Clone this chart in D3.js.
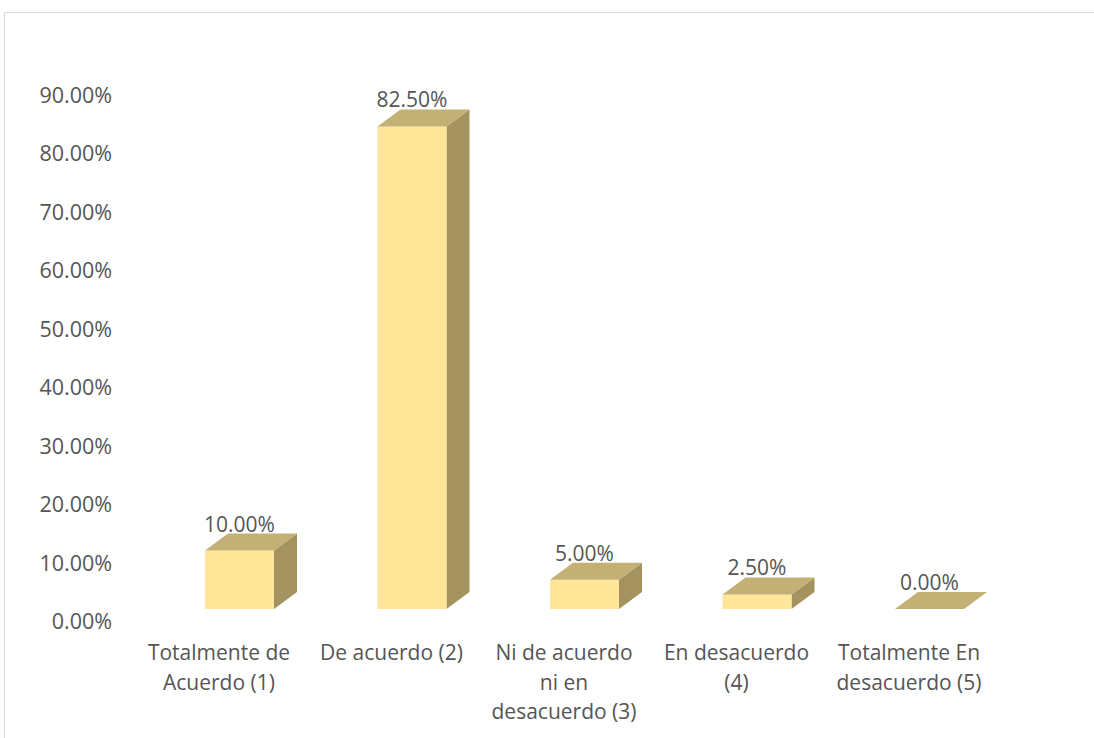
<!DOCTYPE html>
<html>
<head>
<meta charset="utf-8">
<script src="https://cdn.jsdelivr.net/npm/d3@7"></script>
<style>
  body { margin: 0; background: #fff; }
  text { font-family: "Open Sans", sans-serif; fill: #555; }
</style>
</head>
<body>
<svg id="chart" width="1094" height="738"></svg>
<script>
// data
var categories = ["Totalmente de\nAcuerdo (1)", "De acuerdo (2)", "Ni de acuerdo\nni en\ndesacuerdo (3)", "En desacuerdo\n(4)", "Totalmente En\ndesacuerdo (5)"];
var values = [0.10, 0.825, 0.05, 0.025, 0.0];
var yTicks = [0, 0.1, 0.2, 0.3, 0.4, 0.5, 0.6, 0.7, 0.8, 0.9];

var svg = d3.select("#chart"),
    width = +svg.attr("width"),
    height = +svg.attr("height");

// chart frame (right and bottom edges fall outside the picture)
svg.append("rect")
    .attr("x", 4.5).attr("y", 12.5)
    .attr("width", width + 10).attr("height", height + 10)
    .attr("fill", "#fff")
    .attr("stroke", "#d9d9d9");

var x = d3.scalePoint()
    .domain(categories)
    .range([219, 909]);

var y = d3.scaleLinear()
    .domain([0, 0.9])
    .range([622, 95.5]);

var fmt = d3.format(".2%");

// 3d look
var barW = 69, barShift = -14,  // front face relative to category centre
    dx = 23, dy = -17,          // depth offset
    lift = -13;                 // front face floor sits above the axis zero

// y axis labels only, no line
var yAxis = d3.axisLeft(y).tickValues(yTicks).tickFormat(fmt).tickSize(0).tickPadding(0);
var ag = svg.append("g").attr("transform", "translate(112,0)").call(yAxis);
ag.select(".domain").remove();
ag.selectAll("text")
    .attr("fill", "#555")
    .style("font-family", "'Open Sans', sans-serif")
    .style("font-size", "21.5px");

var bars = svg.append("g").selectAll("g")
    .data(categories.map(function(c, i) { return { c: c, v: values[i] }; }))
    .enter().append("g");

bars.each(function(d) {
  var g = d3.select(this),
      x0 = x(d.c) + barShift,
      x1 = x0 + barW,
      yb = y(0) + lift,
      yt = y(d.v) + lift;

  // right side
  if (yb - yt > 0) {
    g.append("path")
      .attr("d", "M" + x1 + "," + yt + "L" + (x1 + dx) + "," + (yt + dy) +
                 "L" + (x1 + dx) + "," + (yb + dy) + "L" + x1 + "," + yb + "Z")
      .attr("fill", "#a4935f");
    g.append("rect")
      .attr("x", x0).attr("y", yt)
      .attr("width", barW).attr("height", yb - yt)
      .attr("fill", "#ffe699");
  }
  // top face
  g.append("path")
    .attr("d", "M" + x0 + "," + yt + "L" + (x0 + dx) + "," + (yt + dy) +
               "L" + (x1 + dx) + "," + (yt + dy) + "L" + x1 + "," + yt + "Z")
    .attr("fill", "#c3b074");

  g.append("text")
    .attr("x", (x0 + x1) / 2)
    .attr("y", yt + dy - 2)
    .attr("text-anchor", "middle")
    .style("font-size", "21px")
    .text(fmt(d.v));
});

// category labels
var lab = svg.append("g").selectAll("text")
    .data(categories)
    .enter().append("text")
    .attr("x", function(d) { return x(d); })
    .attr("y", 660)
    .attr("text-anchor", "middle")
    .style("font-size", "21px");

lab.each(function(d) {
  var t = d3.select(this);
  d.split("\n").forEach(function(line, i) {
    t.append("tspan")
      .attr("x", x(d))
      .attr("dy", i === 0 ? 0 : 29.5)
      .text(line);
  });
});
</script>
</body>
</html>
